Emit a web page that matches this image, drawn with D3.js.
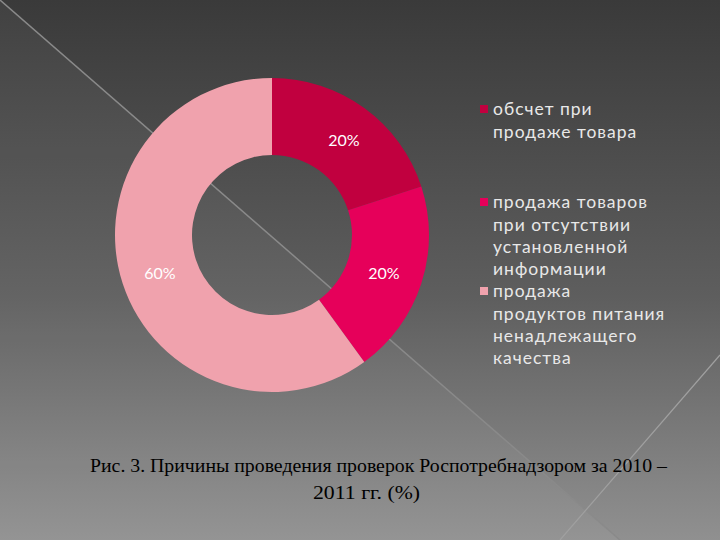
<!DOCTYPE html>
<html><head><meta charset="utf-8">
<script src="https://cdn.jsdelivr.net/npm/d3@7"></script>
<style>body{margin:0;}svg{display:block;}</style></head>
<body><svg width="720" height="540"></svg>
<script>
const categories = [
  ["обсчет при", "продаже товара"],
  ["продажа товаров", "при отсутствии", "установленной", "информации"],
  ["продажа", "продуктов питания", "ненадлежащего", "качества"]
];
const values = [20, 20, 60];
const labels = ["20%", "20%", "60%"];
const colors = ["#c1003f", "#e6005a", "#f0a2ad"];

const svg = d3.select("svg");
const defs = svg.append("defs");
const g = defs.append("linearGradient").attr("id","bg").attr("x1",0).attr("y1",0).attr("x2",0).attr("y2",1);
g.append("stop").attr("offset","0%").attr("stop-color","#3a3a3a");
g.append("stop").attr("offset","55%").attr("stop-color","#5e5e5e");
g.append("stop").attr("offset","100%").attr("stop-color","#909090");
svg.append("rect").attr("width",720).attr("height",540).attr("fill","url(#bg)");
svg.append("path").attr("d","M0,0 L620,540 L0,540 Z").attr("fill","#ffffff").attr("opacity",0.04);
svg.append("line").attr("x1",0).attr("y1",0).attr("x2",620).attr("y2",540).attr("stroke","#8a8a8a").attr("stroke-width",1.5);
svg.append("line").attr("x1",720).attr("y1",355).attr("x2",560).attr("y2",540).attr("stroke","#a0a0a0").attr("stroke-width",1.2);

const cx = 272, cy = 235;
const pie = d3.pie().sort(null).value(d => d);
const arc = d3.arc().innerRadius(80).outerRadius(157);
const chart = svg.append("g").attr("transform",`translate(${cx},${cy})`);
const arcs = pie(values);
chart.selectAll("path").data(arcs).join("path").attr("d",arc).attr("fill",(d,i)=>colors[i]);
const lpos = [[72,-93],[112,40],[-112,40]];
chart.selectAll("text").data(arcs).join("text")
  .attr("x",(d,i)=>lpos[i][0]).attr("y",(d,i)=>lpos[i][1])
  .attr("text-anchor","middle").attr("dominant-baseline","middle")
  .attr("fill","#ffffff").attr("font-family","Lato, sans-serif").attr("font-size",16)
  .text((d,i)=>labels[i]);

const legY = [111, 204, 293];
const leg = svg.append("g");
categories.forEach((lines,i)=>{
  leg.append("rect").attr("x",480).attr("y",legY[i]-6).attr("width",8).attr("height",8).attr("fill",colors[i]);
  lines.forEach((t,j)=>{
    leg.append("text").attr("x",493).attr("y",legY[i]+j*22.3).attr("dominant-baseline","middle")
      .attr("fill","#e8e8e8").attr("font-family","Lato, sans-serif").attr("font-size",17.5)
      .attr("letter-spacing",1).text(t);
  });
});

svg.append("text").attr("x",90).attr("y",472).attr("font-family","Liberation Serif, serif").attr("font-size",18.5)
  .attr("textLength",577).attr("lengthAdjust","spacingAndGlyphs")
  .attr("fill","#000").text("Рис. 3. Причины проведения проверок Роспотребнадзором за 2010 –");
svg.append("text").attr("x",313).attr("y",499).attr("font-family","Liberation Serif, serif").attr("font-size",18.5)
  .attr("textLength",107).attr("lengthAdjust","spacingAndGlyphs")
  .attr("fill","#000").text("2011 гг.  (%)");
</script></body></html>
